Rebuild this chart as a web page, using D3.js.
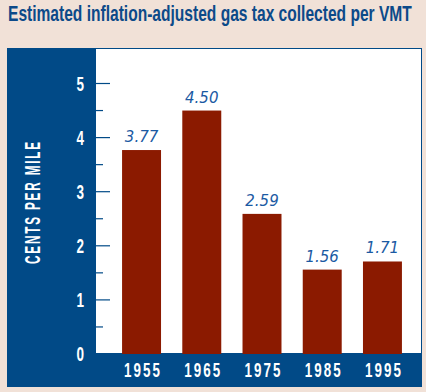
<!DOCTYPE html>
<html>
<head>
<meta charset="utf-8">
<script src="https://cdn.jsdelivr.net/npm/d3@7/dist/d3.min.js"></script>
<style>
  body { margin: 0; background: #f1e1d7; }
  svg { display: block; }
</style>
</head>
<body>
<div id="chart"></div>
<script>
var years = ["1955", "1965", "1975", "1985", "1995"];
var cents = [3.77, 4.50, 2.59, 1.56, 1.71];
var valueLabels = ["3.77", "4.50", "2.59", "1.56", "1.71"];
var yTicks = [0, 1, 2, 3, 4, 5];
var yMinorTicks = [0.5, 1.5, 2.5, 3.5, 4.5];

var svgWidth = 426;
var svgHeight = 392;

var navy = "#014a87";
var barColor = "#8b1a00";
var condFont = "'Liberation Sans', Arial, sans-serif";

var svg = d3.select("#chart")
  .append("svg")
  .attr("width", svgWidth)
  .attr("height", svgHeight);

svg.append("rect")
  .attr("width", svgWidth)
  .attr("height", svgHeight)
  .attr("fill", "#f1e1d7");

// squeeze a text horizontally so it is `w` px wide (fake condensed font)
function squeeze(node, x, y, w, anchor, rot) {
  var len = node.getComputedTextLength();
  var s = w / len;
  var dx = anchor === "middle" ? -w / 2 : (anchor === "end" ? -w : 0);
  d3.select(node)
    .attr("text-anchor", "start")
    .attr("transform", `translate(${x},${y})` + (rot ? ` rotate(${rot})` : "") + ` translate(${dx},0) scale(${s},1)`);
}

// title
var title = svg.append("text")
  .attr("fill", "#0c4a89")
  .style("font-family", condFont)
  .style("font-weight", "bold")
  .style("font-size", "22px")
  .text("Estimated inflation-adjusted gas tax collected per VMT");
squeeze(title.node(), 8, 21, 404, "start");

// blue panel
svg.append("rect")
  .attr("x", 7)
  .attr("y", 48)
  .attr("width", 415)
  .attr("height", 339)
  .attr("fill", navy);

// white plot area
svg.append("rect")
  .attr("x", 96)
  .attr("y", 49)
  .attr("width", 325)
  .attr("height", 304)
  .attr("fill", "#ffffff");

var x = d3.scaleBand()
  .domain(years)
  .range([104, 420])
  .paddingInner(0.353)
  .paddingOuter(0.3);

var y = d3.scaleLinear()
  .domain([0, 5])
  .range([354, 83.5]);

// y ticks
var yAxis = svg.append("g");

yAxis.selectAll(".major")
  .data(yTicks.filter(function(d) { return d > 0; }))
  .enter()
  .append("line")
  .attr("x1", 96)
  .attr("x2", 110)
  .attr("y1", d => y(d))
  .attr("y2", d => y(d))
  .attr("stroke", navy)
  .attr("stroke-width", 1.2);

yAxis.selectAll(".minor")
  .data(yMinorTicks)
  .enter()
  .append("line")
  .attr("x1", 96)
  .attr("x2", 103)
  .attr("y1", d => y(d))
  .attr("y2", d => y(d))
  .attr("stroke", navy)
  .attr("stroke-width", 1.2);

yAxis.selectAll("text")
  .data(yTicks)
  .enter()
  .append("text")
  .attr("fill", "#ffffff")
  .style("font-family", condFont)
  .style("font-weight", "bold")
  .style("font-size", "20px")
  .text(d => d)
  .each(function(d) { squeeze(this, 84, y(d) + 7, 7.5, "end"); });

// y axis title
var yTitle = svg.append("text")
  .attr("fill", "#ffffff")
  .style("font-family", condFont)
  .style("font-weight", "bold")
  .style("font-size", "22.5px")
  .style("letter-spacing", "3.5px")
  .text("CENTS PER MILE");
squeeze(yTitle.node(), 39.5, 202, 124, "middle", -90);

// bars
svg.selectAll(".bar")
  .data(cents)
  .enter()
  .append("rect")
  .attr("class", "bar")
  .attr("x", (d, i) => x(years[i]))
  .attr("y", d => y(d))
  .attr("width", x.bandwidth())
  .attr("height", d => y(0) - y(d))
  .attr("fill", barColor);

// value labels
svg.selectAll(".val")
  .data(cents)
  .enter()
  .append("text")
  .attr("class", "val")
  .attr("x", (d, i) => x(years[i]) + x.bandwidth() / 2)
  .attr("y", d => y(d) - 8)
  .attr("text-anchor", "middle")
  .attr("fill", "#1b5aa3")
  .style("font-family", "'DejaVu Sans', sans-serif")
  .style("font-style", "italic")
  .style("font-size", "15px")
  .text((d, i) => valueLabels[i]);

// x labels
svg.selectAll(".xl")
  .data(years)
  .enter()
  .append("text")
  .attr("class", "xl")
  .attr("fill", "#ffffff")
  .style("font-family", condFont)
  .style("font-weight", "bold")
  .style("font-size", "19.5px")
  .style("letter-spacing", "3px")
  .text(d => d)
  .each(function(d) { squeeze(this, x(d) + x.bandwidth() / 2 + 1.5, 376.5, 38, "middle"); });
</script>
</body>
</html>
